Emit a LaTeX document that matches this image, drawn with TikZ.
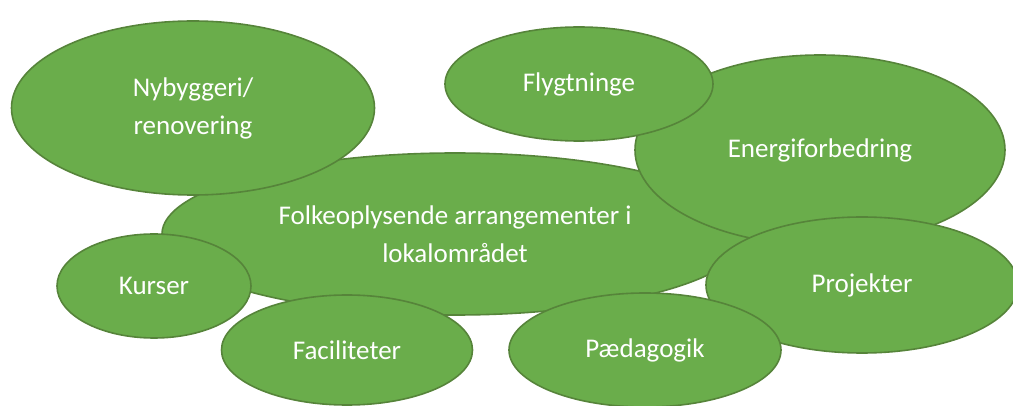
\documentclass[tikz,border=0pt]{standalone}
\usepackage{fontspec}
\setmainfont{Carlito}
\usetikzlibrary{shapes.geometric}
\definecolor{bubblefill}{HTML}{6AAD4B}
\definecolor{bubbleline}{HTML}{56843A}
\tikzset{
  bubble/.style={ellipse, draw=bubbleline, line width=1.6pt, fill=bubblefill,
    text=white, inner sep=0pt, align=center,
    font=\fontsize{27}{38}\selectfont},
}
\begin{document}
\begin{tikzpicture}[x=1pt,y=-1pt]
\useasboundingbox (0,0) rectangle (1013,406);
\clip (0,0) rectangle (1013,406);
\node[bubble, minimum width=586pt, minimum height=162pt] (folk) at (455,234)
  {Folkeoplysende arrangementer i\\lokalområdet};
\node[bubble, minimum width=370pt, minimum height=190pt] (energi) at (820,150) {Energiforbedring};
\node[bubble, minimum width=268pt, minimum height=114pt] (flygt) at (579,84) {Flygtninge};
\node[bubble, minimum width=363pt, minimum height=174pt] (nyb) at (193,108) {Nybyggeri/\\renovering};
\node[bubble, minimum width=194pt, minimum height=104pt] (kurs) at (154,286) {Kurser};
\node[bubble, minimum width=312pt, minimum height=136pt] (proj) at (862,285) {Projekter};
\node[bubble, minimum width=251pt, minimum height=110pt] (fac) at (347,350) {Faciliteter};
\node[bubble, minimum width=272pt, minimum height=114pt] (paed) at (645,350) {Pædagogik};
\end{tikzpicture}
\end{document}
